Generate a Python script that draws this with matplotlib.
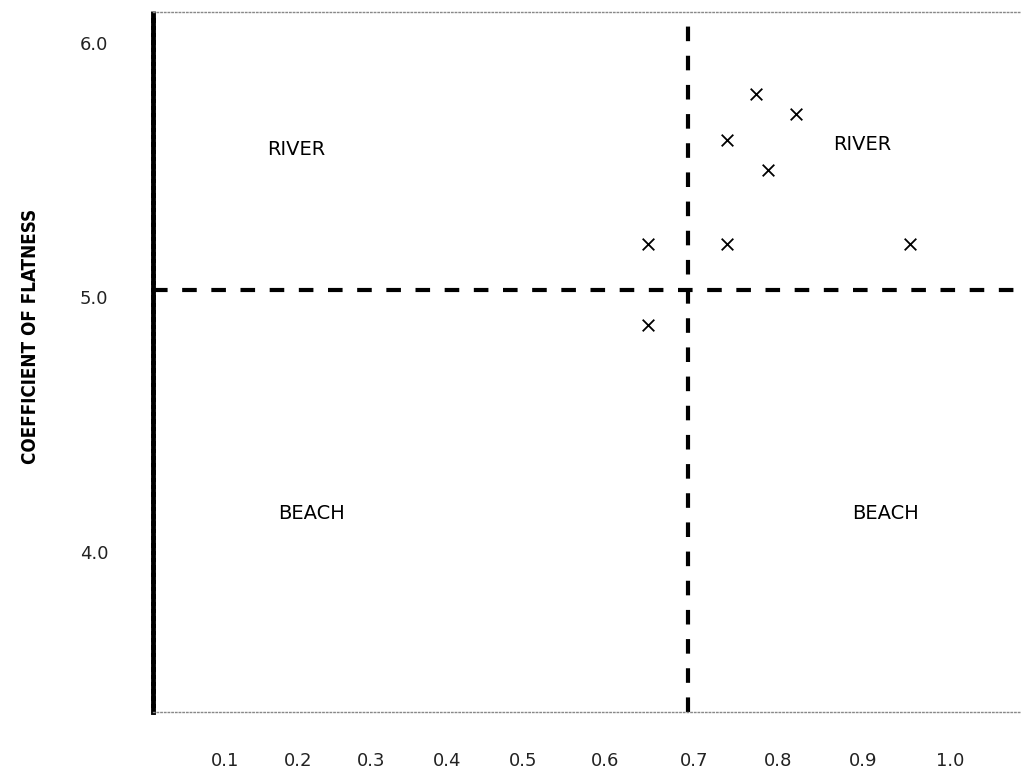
import numpy as np
import matplotlib.pyplot as plt

# Data
x_vals = [0.648, 0.648, 0.739, 0.739, 0.773, 0.788, 0.821, 0.954]
y_vals = [5.21, 4.89, 5.62, 5.21, 5.80, 5.50, 5.72, 5.21]

x_ticks = [0.1, 0.2, 0.3, 0.4, 0.5, 0.6, 0.7, 0.8, 0.9, 1.0]
y_ticks = [4.0, 5.0, 6.0]
x_split = 0.693
y_split = 5.03

region_labels = ['RIVER', 'BEACH', 'RIVER', 'BEACH']
region_x = [0.197, 0.219, 0.899, 0.926]
region_y = [5.58, 4.15, 5.60, 4.15]

# the hand-drawn x axis is not evenly spaced: where each tick sits along it
warp_vals = [0.0, 0.1, 0.2, 0.3, 0.4, 0.5, 0.6, 0.7, 0.8, 0.9, 1.0, 1.1]
warp_pos = [152, 225, 298, 371, 447, 523, 605, 694, 778, 863, 950, 1037]


def fwd(v):
    return np.interp(v, warp_vals, warp_pos)


def inv(p):
    return np.interp(p, warp_pos, warp_vals)


fig = plt.figure(figsize=(10.23, 7.71), dpi=100)
ax = fig.add_axes([153 / 1023, 1 - 712 / 771, 867 / 1023, 700 / 771])
ax.set_xscale('function', functions=(fwd, inv))
ax.set_xlim(0.0015, 1.08)
ax.set_ylim(3.371, 6.122)

ax.axvline(x_split, color='black', lw=3, linestyle=(0, (3.5, 3.5)))
ax.axhline(y_split, color='black', lw=3, linestyle=(0, (3.5, 3.5)))

ax.scatter(x_vals, y_vals, marker='x', s=70, color='black', linewidths=1.3, zorder=3)

for lab, tx, ty in zip(region_labels, region_x, region_y):
    ax.text(tx, ty, lab, ha='center', va='center', fontsize=14, color='black')

ax.set_xticks(x_ticks)
ax.set_xticklabels([f'{t:.1f}' for t in x_ticks])
ax.set_yticks(y_ticks)
ax.set_yticklabels([f'{t:.1f}' for t in y_ticks])
ax.xaxis.set_minor_locator(plt.NullLocator())
ax.tick_params(axis='both', length=0, labelsize=13, colors='#222222')
ax.tick_params(axis='x', pad=29)
ax.tick_params(axis='y', pad=32)

ax.spines['right'].set_visible(False)
ax.spines['left'].set_linewidth(3.5)
ax.spines['left'].set_linestyle((0, (1.2, 0.3)))
for side in ['top', 'bottom']:
    ax.spines[side].set_color('#888888')
    ax.spines[side].set_linewidth(1)
    ax.spines[side].set_linestyle(':')

fig.text(31 / 1023, 1 - 336 / 771, 'COEFFICIENT OF FLATNESS', rotation=90,
         ha='center', va='center', fontsize=13.5, fontweight='bold',
         fontstretch='condensed', family=['Liberation Sans Narrow', 'DejaVu Sans'])

fig.savefig('out.png', dpi=100)
